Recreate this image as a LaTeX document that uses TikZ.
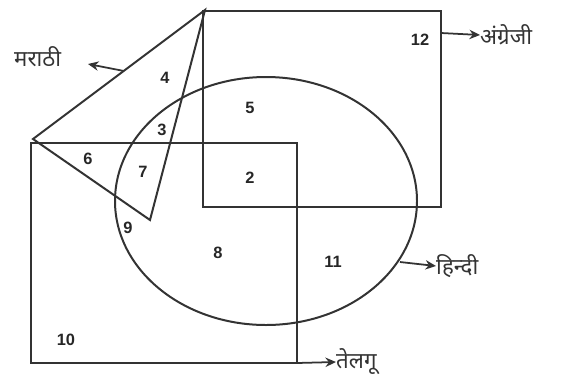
\documentclass[tikz,border=0pt]{standalone}
\usepackage{fontspec}
\setsansfont{Liberation Sans}
\newfontfamily\deva[Script=Devanagari]{Noto Sans}
\usetikzlibrary{arrows.meta}
\begin{document}
\begin{tikzpicture}[x=0.03cm,y=-0.03cm,
  outline/.style={draw=black!80,line width=1.7pt},
  num/.style={font=\sffamily\bfseries\fontsize{14}{16}\selectfont,text=black!85,inner sep=0pt},
  lab/.style={font=\deva\fontsize{19}{21}\selectfont,text=black!80,inner sep=0pt,anchor=west},
  arr/.style={draw=black!80,line width=1.5pt,-{Stealth[length=9pt,width=8pt]}}]
\useasboundingbox (0,0) rectangle (565,386);
% shapes
\draw[outline] (203,11) rectangle (441,207);
\draw[outline] (31,143) rectangle (297,363);
\draw[outline] (266,201) ellipse [x radius=151, y radius=124];
\coordinate (tA) at (205,10);
\coordinate (tB) at (33,139);
\coordinate (tC) at (150,220);
\draw[outline,line join=miter] (tA) -- (tB) -- (tC) -- cycle;
% numbers
\node[num] (n12) at (420,40) {12};
\node[num] (n4) at (165,78) {4};
\node[num] (n5) at (250,108) {5};
\node[num] (n3) at (162,130) {3};
\node[num] (n6) at (88,159) {6};
\node[num] (n7) at (143,172) {7};
\node[num] (n2) at (250,178) {2};
\node[num] (n9) at (128,228) {9};
\node[num] (n8) at (218,253) {8};
\node[num] (n11) at (333,262) {11};
\node[num] (n10) at (66,340) {10};
% labels
\node[lab] (mar) at (14,57) {मराठी};
\node[lab] (eng) at (480,35) {अंग्रेजी};
\node[lab] (hin) at (436,266) {हिन्दी};
\node[lab] (tel) at (336,362) {तेलगू};
\coordinate (mS) at (124,71);
\coordinate (mE) at (88,64);
\coordinate (eS) at (441,33);
\coordinate (hS) at (400,262);
\coordinate (tS) at (297,363);
\draw[arr] (mS) -- (mE);
\draw[arr] (eS) -- (eng.west);
\draw[arr] (hS) -- (hin.west);
\draw[arr] (tS) -- (tel.west);
\end{tikzpicture}
\end{document}
